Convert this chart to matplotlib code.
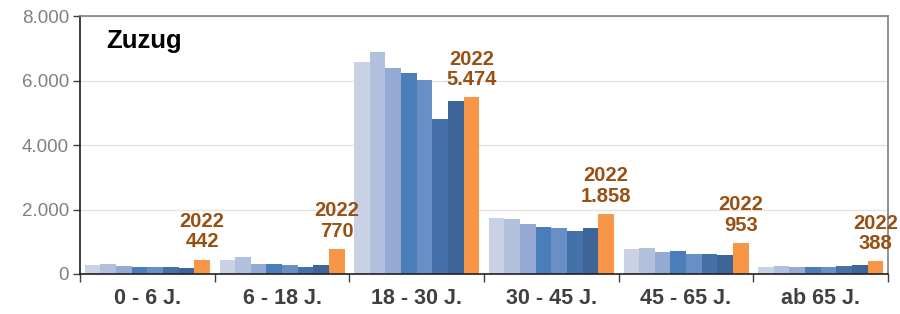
import matplotlib.pyplot as plt
import numpy as np

plt.rcParams["font.family"] = ["Liberation Sans", "DejaVu Sans"]

categories = ["0 - 6 J.", "6 - 18 J.", "18 - 30 J.", "30 - 45 J.", "45 - 65 J.", "ab 65 J."]

# seven earlier years (light to dark blue), then 2022 in orange
earlier_years = [
    [290, 312, 250, 228, 228, 220, 175],
    [420, 520, 312, 300, 280, 230, 280],
    [6580, 6875, 6385, 6240, 6010, 4820, 5350],
    [1740, 1690, 1560, 1450, 1440, 1330, 1415],
    [770, 820, 670, 720, 625, 625, 595],
    [210, 240, 210, 210, 220, 240, 280],
]
values_2022 = [442, 770, 5474, 1858, 953, 388]

blues = ["#C9D2E5", "#B1C0DC", "#95AAD2", "#4A7EBB", "#6890C5", "#4472A8", "#3D6597"]
orange = "#F79646"
label_color = "#9A4F12"


def fmt_de(v):
    return f"{v:,.0f}".replace(",", ".")


fig = plt.figure(figsize=(9, 3.14), dpi=100)
ax = fig.add_axes([0.0889, 0.1274, 0.8978, 0.8216])

x = np.arange(len(categories))
w = 0.116
data = np.array(earlier_years)
for j in range(data.shape[1]):
    ax.bar(x + (j - 3.5) * w, data[:, j], width=w, color=blues[j], linewidth=0, zorder=2)
ax.bar(x + 3.5 * w, values_2022, width=w, color=orange, linewidth=0, zorder=2)

for xi, v in zip(x, values_2022):
    ax.annotate(f"2022\n{fmt_de(v)}", (xi + 3.5 * w, v), xytext=(0, 6), textcoords="offset points",
                ha="center", va="bottom", fontsize=14.5, fontweight="bold", color=label_color,
                linespacing=1.1, annotation_clip=False, clip_on=False)

ax.set_xlim(-0.5, len(categories) - 0.5)
ax.set_ylim(0, 8000)
ax.set_yticks([0, 2000, 4000, 6000, 8000])
ax.set_yticklabels([fmt_de(v) for v in [0, 2000, 4000, 6000, 8000]], fontsize=13.5, color="#808080")
ax.set_xticks(x)
ax.set_xticklabels(categories, fontsize=15.5, fontweight="bold", color="#404040")
ax.set_xticks(np.arange(len(categories) + 1) - 0.5, minor=True)
ax.tick_params(axis="x", which="major", length=0, pad=10)
ax.tick_params(axis="x", which="minor", length=6, width=1, color="#404040")
ax.tick_params(axis="y", length=5, width=1, color="#404040", pad=3)

ax.grid(axis="y", color="#E3E3E3", linewidth=1, zorder=0)
ax.set_axisbelow(True)
for side in ["left", "bottom"]:
    ax.spines[side].set_color("#202020")
    ax.spines[side].set_linewidth(1.2)
for side in ["top", "right"]:
    ax.spines[side].set_color("#7F7F7F")
    ax.spines[side].set_linewidth(1.2)

ax.text(0.032, 0.905, "Zuzug", transform=ax.transAxes, fontsize=18.5, fontweight="bold",
        color="black", ha="left", va="center")

fig.savefig("out.png", dpi=100)
